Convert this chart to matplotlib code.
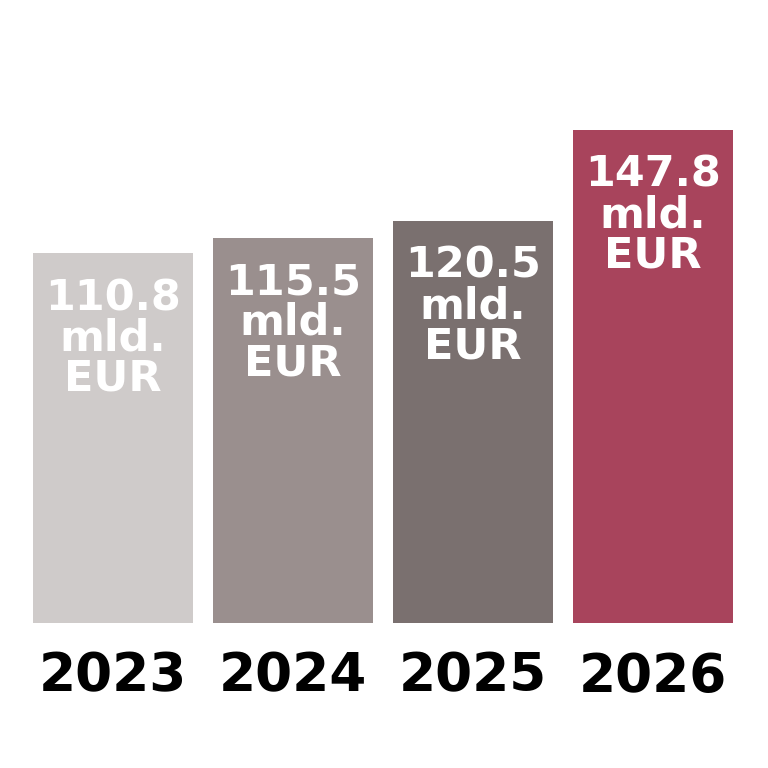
import matplotlib
matplotlib.use("Agg")
import matplotlib.pyplot as plt

years = ["2023", "2024", "2025", "2026"]
values = [110.8, 115.5, 120.5, 147.8]
labels = ["110.8\nmld.\nEUR", "115.5\nmld.\nEUR", "120.5\nmld.\nEUR", "147.8\nmld.\nEUR"]
colors = ["#cfcbca", "#9a8f8e", "#7a706f", "#a8445c"]

fig = plt.figure(figsize=(7.68, 7.68), dpi=100)
ax = fig.add_axes([23/768, (768-623)/768, 720/768, 534/768])
x = list(range(len(years)))
ax.bar(x, values, width=160/180, color=colors)
ax.set_xlim(-0.5, 3.5)
ax.set_ylim(0, 160)
for xi, v, lab in zip(x, values, labels):
    ax.annotate(lab, (xi, v), xytext=(0, -24), textcoords="offset pixels",
                ha="center", va="top", color="white", fontsize=31,
                fontweight="bold", linespacing=0.95)
ax.set_xticks(x)
ax.set_xticklabels(years, fontsize=38.3, fontweight="bold")
ax.tick_params(axis="x", length=0, pad=20)
ax.set_yticks([])
for s in ax.spines.values():
    s.set_visible(False)
fig.savefig("out.png", dpi=100)
